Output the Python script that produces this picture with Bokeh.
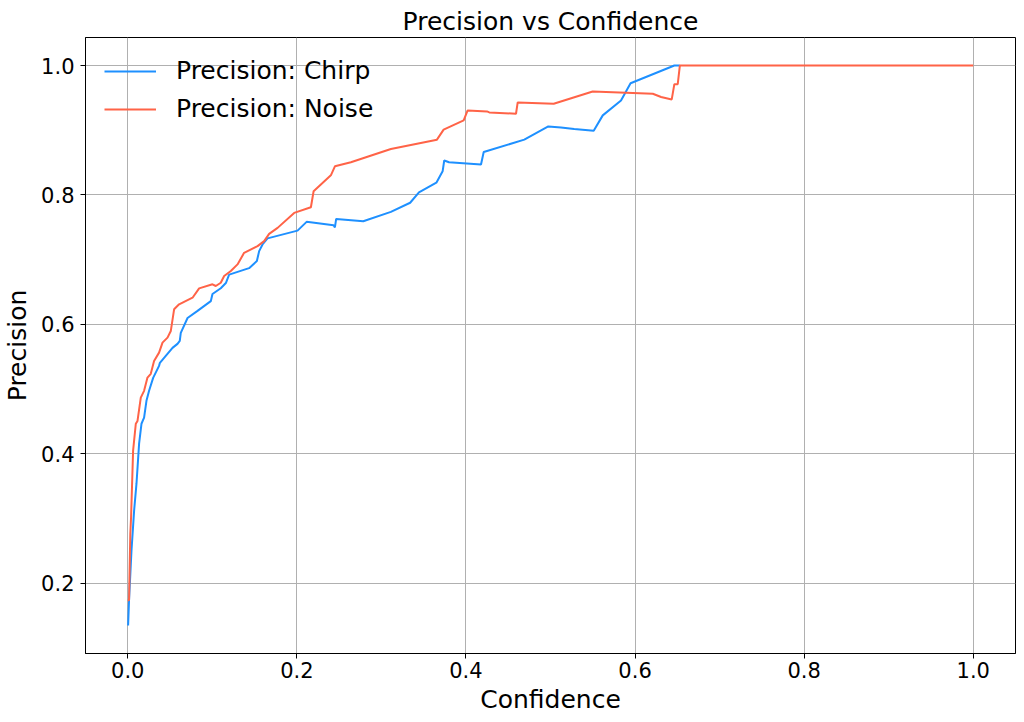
from bokeh.plotting import figure
from bokeh.models import FixedTicker, PrintfTickFormatter, Range1d, Legend, LegendItem
from bokeh.embed import file_html
from bokeh.resources import INLINE

# Precision: Chirp
chirp_conf = [0.0004, 0.0015, 0.0044, 0.0075, 0.0103, 0.0134, 0.0162, 0.0193, 0.0221, 0.0252,
              0.030, 0.037, 0.038, 0.0529, 0.0588, 0.0615, 0.0627, 0.0707, 0.0825, 0.0982,
              0.1002, 0.110, 0.116, 0.1199, 0.1435, 0.1527, 0.1554, 0.1594, 0.1653, 0.2008,
              0.2115, 0.2434, 0.245, 0.2465, 0.2785, 0.3112, 0.334, 0.3444, 0.365, 0.3724,
              0.3743, 0.380, 0.4178, 0.421, 0.469, 0.4974, 0.5124, 0.528, 0.5511, 0.5618,
              0.5834, 0.5947, 0.6465, 0.653]
chirp_prec = [0.135, 0.174, 0.251, 0.3125, 0.354, 0.416, 0.4466, 0.456, 0.482, 0.4975,
              0.5175, 0.536, 0.5407, 0.5638, 0.570, 0.5746, 0.587, 0.610, 0.621, 0.636,
              0.647, 0.656, 0.664, 0.677, 0.687, 0.698, 0.7133, 0.7236, 0.733, 0.745,
              0.7585, 0.7534, 0.750, 0.763, 0.7595, 0.774, 0.788, 0.804, 0.819, 0.8366,
              0.8533, 0.8505, 0.847, 0.8664, 0.8855, 0.906, 0.9044, 0.9018, 0.8993, 0.923,
              0.946, 0.9727, 1.0, 1.0]

# Precision: Noise
noise_conf = [0.0, 0.0015, 0.003, 0.0039, 0.0063, 0.0075, 0.0095, 0.0115, 0.0154, 0.0193,
              0.0233, 0.0272, 0.0311, 0.037, 0.0411, 0.047, 0.0509, 0.0548, 0.0607, 0.0766,
              0.0844, 0.1002, 0.1041, 0.110, 0.114, 0.1219, 0.1298, 0.1376, 0.1535, 0.1613,
              0.1672, 0.1772, 0.1968, 0.2166, 0.2198, 0.2402, 0.245, 0.2639, 0.3112, 0.3657,
              0.3736, 0.3973, 0.402, 0.4249, 0.4276, 0.4592, 0.4612, 0.5038, 0.5499, 0.621,
              0.6308, 0.6434, 0.6465, 0.6505, 0.653, 1.0]
noise_prec = [0.174, 0.174, 0.277, 0.302, 0.405, 0.4204, 0.4466, 0.451, 0.487, 0.4975,
              0.518, 0.5237, 0.5437, 0.5565, 0.572, 0.5797, 0.590, 0.6234, 0.6311, 0.6413,
              0.6558, 0.662, 0.6594, 0.6644, 0.6748, 0.6825, 0.6928, 0.7107, 0.721, 0.7287,
              0.740, 0.7492, 0.7723, 0.7811, 0.8058, 0.8304, 0.8443, 0.8505, 0.871, 0.8855,
              0.9009, 0.9152, 0.9306, 0.9291, 0.9276, 0.9255, 0.943, 0.941, 0.960, 0.9564,
              0.9514, 0.9476, 0.9712, 0.9712, 1.0, 1.0]

x_ticks = [0.0, 0.2, 0.4, 0.6, 0.8, 1.0]
y_ticks = [0.2, 0.4, 0.6, 0.8, 1.0]

FONT = "DejaVu Sans"

p = figure(frame_width=930, frame_height=616, output_backend="svg", toolbar_location=None,
           title="Precision vs Confidence",
           x_range=Range1d(-0.05, 1.05), y_range=Range1d(0.0917, 1.0433),
           min_border_left=85, min_border_right=8, min_border_top=37, min_border_bottom=68)
p.background_fill_color = "white"
p.border_fill_color = "white"
p.outline_line_color = "black"
p.outline_line_width = 1
p.outline_line_alpha = 1

p.title.text_font = FONT
p.title.text_font_size = "25px"
p.title.text_font_style = "normal"
p.title.align = "center"
p.title.text_color = "black"
p.title.standoff = 3
p.title.offset = 0

for ax in (p.xaxis[0], p.yaxis[0]):
    ax.major_label_text_font = FONT
    ax.major_label_text_font_size = "21px"
    ax.major_label_text_color = "black"
    ax.axis_label_text_font = FONT
    ax.axis_label_text_font_size = "25px"
    ax.axis_label_text_font_style = "normal"
    ax.axis_label_text_color = "black"
    ax.major_tick_in = 0
    ax.major_tick_out = 5
    ax.minor_tick_in = 0
    ax.minor_tick_out = 0
    ax.major_tick_line_color = "black"
    ax.axis_line_color = "black"
    ax.formatter = PrintfTickFormatter(format="%.1f")

p.xaxis[0].major_label_standoff = 3
p.xaxis[0].axis_label_standoff = 4
p.yaxis[0].major_label_standoff = 6
p.yaxis[0].axis_label_standoff = 6

p.xaxis[0].ticker = FixedTicker(ticks=x_ticks)
p.yaxis[0].ticker = FixedTicker(ticks=y_ticks)
p.xaxis.axis_label = "Confidence"
p.yaxis.axis_label = "Precision"

p.xgrid.ticker = FixedTicker(ticks=x_ticks)
p.ygrid.ticker = FixedTicker(ticks=y_ticks)
for g in (p.xgrid[0], p.ygrid[0]):
    g.grid_line_color = "#b0b0b0"
    g.grid_line_width = 1

r1 = p.line(chirp_conf, chirp_prec, line_color="#1E90FF", line_width=2)
r2 = p.line(noise_conf, noise_prec, line_color="#FF6347", line_width=2)

legend = Legend(items=[LegendItem(label="Precision: Chirp", renderers=[r1]),
                       LegendItem(label="Precision: Noise", renderers=[r2])],
                location="top_left")
legend.label_text_font = FONT
legend.label_text_font_size = "25px"
legend.label_text_color = "black"
legend.border_line_alpha = 0
legend.background_fill_alpha = 0
legend.margin = 0
legend.padding = 19
legend.glyph_width = 52
legend.glyph_height = 22
legend.label_height = 22
legend.label_standoff = 20
legend.spacing = 9
p.add_layout(legend)

open("out.html", "w").write(file_html(p, INLINE))
